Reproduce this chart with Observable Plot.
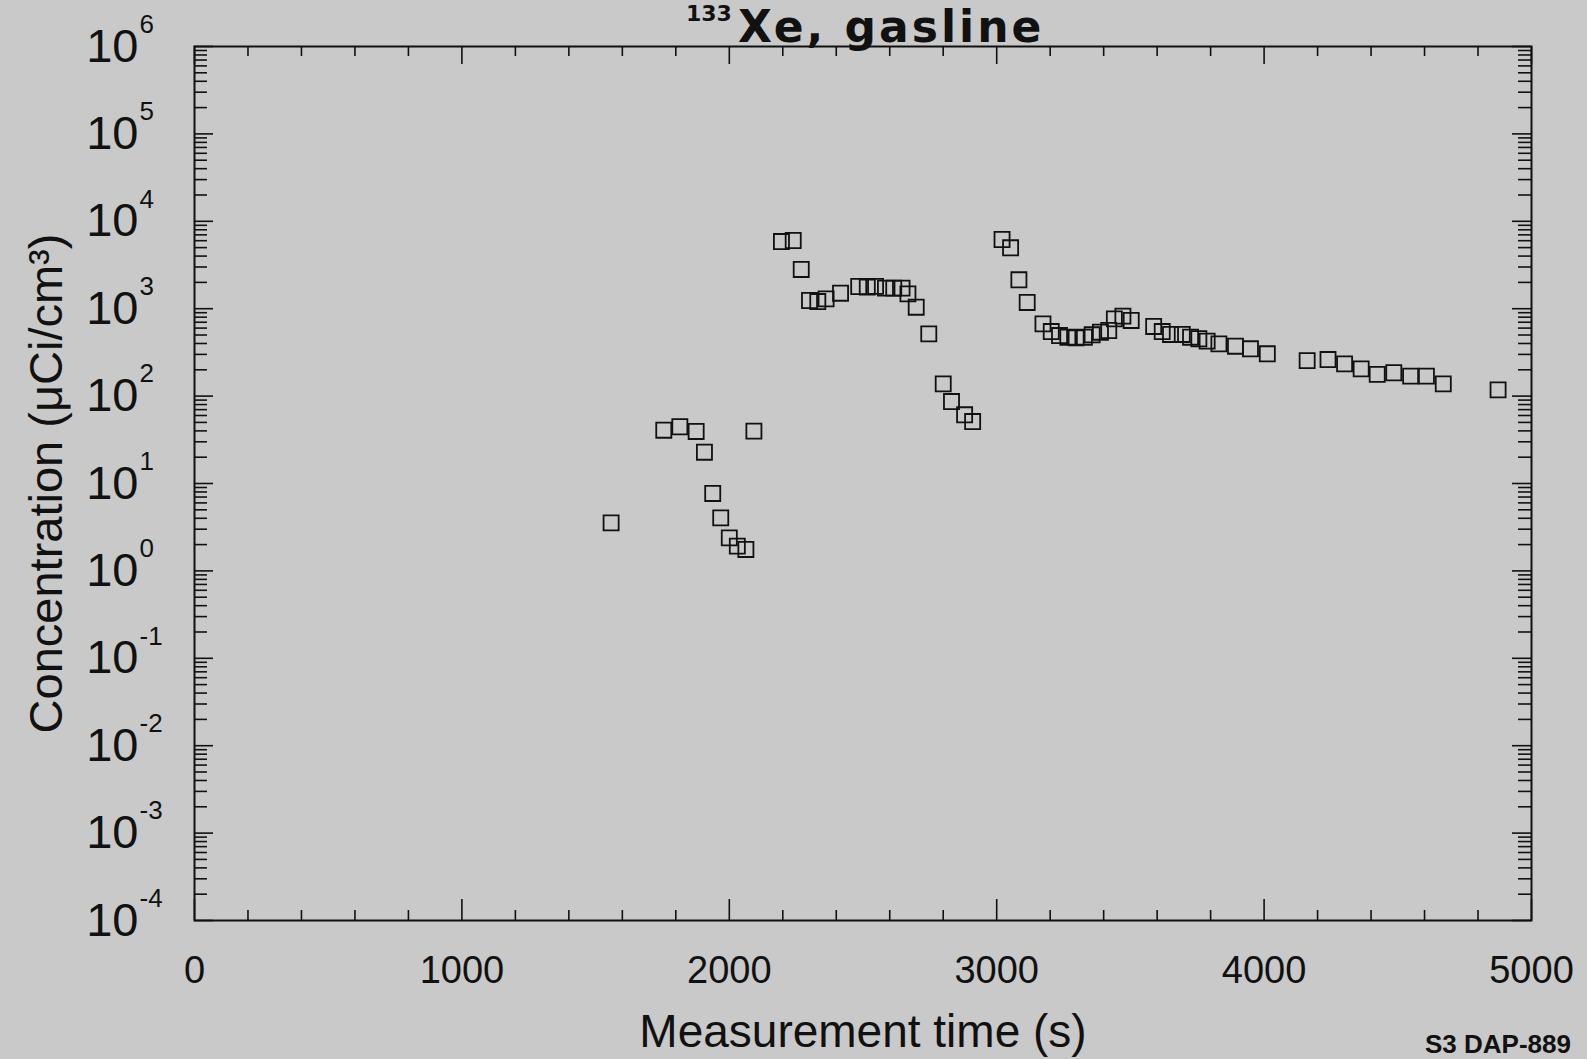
<!DOCTYPE html>
<html><head><meta charset="utf-8">
<script src="https://cdn.jsdelivr.net/npm/d3@7"></script>
<script src="https://cdn.jsdelivr.net/npm/@observablehq/plot@0.6"></script>
<style>
html,body{margin:0;padding:0;background:#c9c9c9;}
#wrap{position:relative;width:1587px;height:1059px;overflow:hidden;font-family:"Liberation Sans",Arial,Helvetica,sans-serif;color:#111;}
.abs{position:absolute;line-height:1;white-space:nowrap;}
#chart{position:absolute;left:0;top:0;}
#titleSup,#title{font-family:"DejaVu Sans","Liberation Sans",Arial,sans-serif;font-weight:bold;}
</style>
</head><body>
<div id="wrap">
  <div id="chart"></div>
  <div class="abs" id="titleSup" style="left:686px;top:3px;font-size:22px;">133</div>
  <div class="abs" id="title" style="left:738px;top:5px;font-size:44px;letter-spacing:3px;">Xe, gasline</div>
  <div class="abs" id="caption" style="left:1425px;top:1031px;font-weight:bold;font-size:26px;">S3 DAP-889</div>
</div>
<script>
// Measurement time (s)
const times = [1558, 1755, 1815, 1876, 1907, 1938, 1968, 2000, 2030, 2062, 2092,
  2195, 2239, 2269, 2300, 2331, 2362, 2416, 2484, 2516, 2547, 2584, 2615, 2646, 2668, 2699, 2746, 2800, 2831, 2880, 2910,
  3020, 3052, 3083, 3114, 3173, 3204, 3235, 3266, 3297, 3328, 3357, 3388, 3419, 3440, 3472, 3503, 3587, 3619, 3650, 3694,
  3725, 3756, 3787, 3831, 3893, 3949, 4012, 4161, 4239, 4301, 4363, 4423, 4485, 4548, 4607, 4670, 4875];
// Concentration (uCi/cm3)
const concentrations = [3.55, 40.7, 44.6, 39.4, 22.8, 7.69, 4.05, 2.39, 1.92, 1.76, 39.7,
  5870, 6030, 2810, 1241, 1208, 1297, 1503, 1795, 1770, 1800, 1717, 1717, 1717, 1480, 1040, 516, 138, 86.7, 61.1, 51.2,
  6190, 4976, 2142, 1178, 671, 548, 493, 472, 465, 472, 503, 538, 563, 766, 821, 733, 626, 548, 507, 507,
  472, 453, 425, 396, 372, 348, 305, 255, 262, 234, 205, 177, 185, 169, 169, 138, 118];
// Axis tick labels
const xTickLabels = [0, 1000, 2000, 3000, 4000, 5000];
const yExponents = [-4, -3, -2, -1, 0, 1, 2, 3, 4, 5, 6];
const xLabel = "Measurement time (s)";
const yLabel = "Concentration (μCi/cm³)";

const data = times.map((t, i) => ({t, c: concentrations[i]}));

const W = 1587, H = 1059, mL = 194, mR = 56, mT = 46, mB = 139;
const fw = W - mL - mR, fh = H - mT - mB;
const ink = "#111";

const xMinor = d3.range(0, 5001, 200).filter(v => v % 1000 !== 0);
const yMinor = [];
for (const e of yExponents.slice(0, -1)) for (let k = 2; k <= 9; k++) yMinor.push(k * 10 ** e);
const yMajor = yExponents.map(e => 10 ** e);

const chart = Plot.plot({
  width: W, height: H,
  marginLeft: mL, marginRight: mR, marginTop: mT, marginBottom: mB,
  x: {domain: [0, 5000], axis: null},
  y: {type: "log", domain: [1e-4, 1e6], axis: null},
  style: {background: "transparent", fontFamily: "'Liberation Sans', Arial, Helvetica, sans-serif", color: ink},
  marks: [
    // x ticks bottom (inward) and top (inward)
    Plot.tickX(xMinor, {x: d => d, insetTop: fh - 10, stroke: ink, strokeWidth: 1.6}),
    Plot.tickX(xTickLabels, {x: d => d, insetTop: fh - 21, stroke: ink, strokeWidth: 1.6}),
    Plot.tickX(xMinor, {x: d => d, insetBottom: fh - 10, stroke: ink, strokeWidth: 1.6}),
    Plot.tickX(xTickLabels, {x: d => d, insetBottom: fh - 18, stroke: ink, strokeWidth: 1.6}),
    // y ticks left and right (inward)
    Plot.tickY(yMinor, {y: d => d, insetRight: fw - 13, stroke: ink, strokeWidth: 1.6}),
    Plot.tickY(yMajor, {y: d => d, insetRight: fw - 19, stroke: ink, strokeWidth: 1.6}),
    Plot.tickY(yMinor, {y: d => d, insetLeft: fw - 13, stroke: ink, strokeWidth: 1.6}),
    Plot.tickY(yMajor, {y: d => d, insetLeft: fw - 19, stroke: ink, strokeWidth: 1.6}),
    Plot.frame({stroke: ink, strokeWidth: 2}),
    // tick labels
    Plot.text(xTickLabels, {x: d => d, text: d => String(d), frameAnchor: "bottom", lineAnchor: "middle", textAnchor: "middle", dy: 50, fontSize: 38, fill: ink}),
    Plot.text(yExponents, {y: e => 10 ** e, text: () => "10", frameAnchor: "left", lineAnchor: "middle", textAnchor: "end", dx: -56, fontSize: 47, fill: ink}),
    Plot.text(yExponents, {y: e => 10 ** e, text: e => (e < 0 ? "-" + (-e) : String(e)), frameAnchor: "left", lineAnchor: "middle", textAnchor: "start", dx: -55, dy: -22, fontSize: 26, fill: ink}),
    // axis titles
    Plot.text([xLabel], {text: d => d, frameAnchor: "bottom", lineAnchor: "middle", textAnchor: "middle", dy: 112, fontSize: 46, fill: ink}),
    Plot.text([yLabel], {text: d => d, frameAnchor: "left", lineAnchor: "middle", textAnchor: "middle", dx: -148, rotate: -90, fontSize: 47, fill: ink}),
    // data
    Plot.dot(data, {x: "t", y: "c", symbol: "square", r: 8.5, stroke: ink, strokeWidth: 1.8, fill: "none"})
  ]
});
document.getElementById("chart").appendChild(chart);
</script>
</body></html>
